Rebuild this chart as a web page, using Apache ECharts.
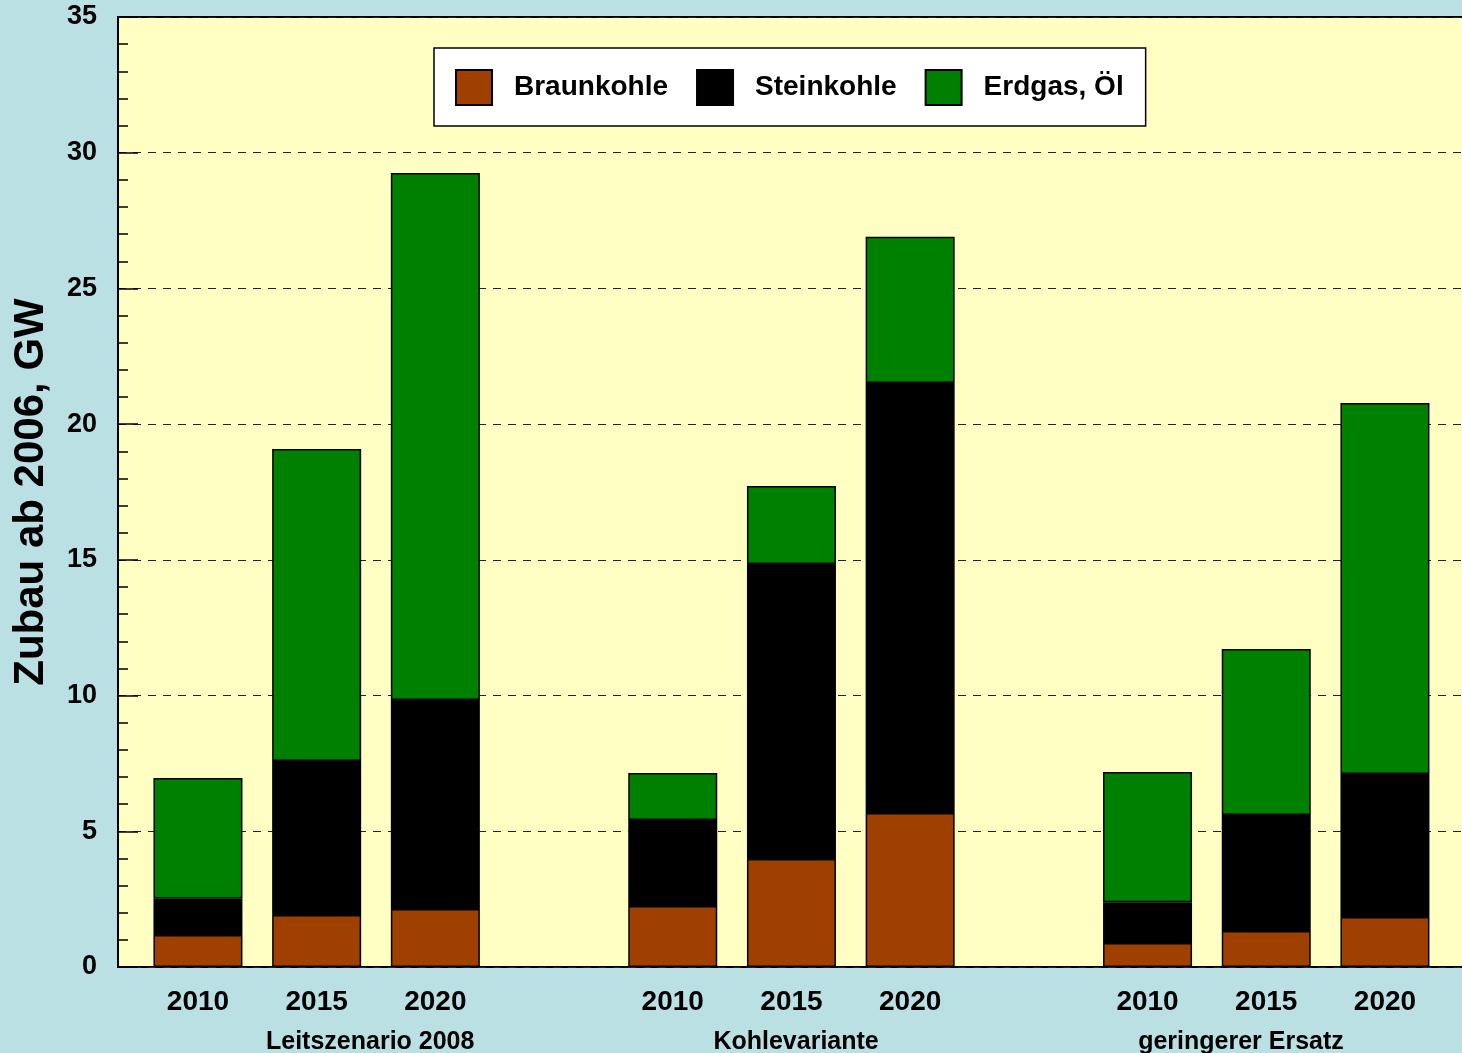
<!DOCTYPE html>
<html lang="de">

<head>
    <meta charset="UTF-8">
    <title>Zubau ab 2006</title>
    <style>
        body { margin: 0; background: #bae0e4; }
    </style>
</head>

<body>
    <div id="main" style="width: 1462px;height: 1053px;"></div>
    <script src="https://cdn.jsdelivr.net/npm/echarts@6/dist/echarts.min.js"></script>
    <script>
        // Slots: drei Gruppen mit je drei Jahren, leere Slots als Abstand
        var categories = ['2010', '2015', '2020', '', '2010', '2015', '2020', '', '2010', '2015', '2020'];
        var groups = ['Leitszenario 2008', 'Kohlevariante', 'geringerer Ersatz'];
        var braunkohle = [1.18, 1.92, 2.14, null, 2.25, 3.98, 5.67, null, 0.88, 1.33, 1.84];
        var steinkohle = [1.33, 5.67, 7.70, null, 3.17, 10.87, 15.85, null, 1.51, 4.27, 5.27];
        var erdgas = [4.45, 11.49, 19.41, null, 1.73, 2.87, 5.38, null, 4.79, 6.12, 13.67];
        var yTicks = [0, 5, 10, 15, 20, 25, 30, 35];

        var font = '"Liberation Sans", Arial, sans-serif';
        var groupPos = [1.45, 5.03, 8.77]; // Mitte der Gruppentexte, in Slots

        function bar(name, color, arr) {
            return {
                name: name,
                type: 'bar',
                stack: 'zubau',
                xAxisIndex: 1,
                yAxisIndex: 1,
                barWidth: 89,
                data: arr,
                itemStyle: { color: color, borderColor: '#000', borderWidth: 1.5 }
            };
        }

        var chart = echarts.init(document.getElementById('main'));
        chart.setOption({
            backgroundColor: '#bae0e4',
            textStyle: { fontFamily: font },
            legend: {
                left: 434,
                top: 48,
                padding: [21, 22, 20, 21],
                itemGap: 28,
                itemWidth: 36,
                itemHeight: 35,
                backgroundColor: '#fff',
                borderColor: '#000',
                borderWidth: 1.5,
                icon: 'rect',
                textStyle: { fontSize: 28, fontWeight: 'bold', color: '#000', padding: [4, 0, 0, 17], fontFamily: font },
                data: ['Braunkohle', 'Steinkohle', 'Erdgas, Öl']
            },
            grid: [
                {   // Hintergrund, y-Achse, Gitterlinien
                    left: 118,
                    right: -3,
                    top: 17,
                    bottom: 86,
                    outerBoundsMode: 'none',
                    show: true,
                    backgroundColor: '#ffffc4',
                    borderColor: '#000',
                    borderWidth: 2
                },
                {   // Balken
                    left: 138.6,
                    right: 17.7,
                    top: 17,
                    bottom: 86,
                    outerBoundsMode: 'none'
                }
            ],
            xAxis: [
                {
                    type: 'value',
                    gridIndex: 0,
                    min: -0.67,
                    max: 10.653,
                    splitLine: { show: false },
                    axisLine: { show: false },
                    axisTick: { show: false },
                    axisLabel: {
                        customValues: groupPos,
                        formatter: function (v) { return groups[groupPos.indexOf(v)]; },
                        margin: 63,
                        fontSize: 25,
                        fontWeight: 'bold',
                        color: '#000',
                        fontFamily: font
                    }
                },
                {
                    type: 'category',
                    gridIndex: 1,
                    data: categories,
                    axisLine: { show: false },
                    axisTick: { show: false },
                    axisLabel: {
                        interval: 0,
                        margin: 21,
                        fontSize: 28,
                        fontWeight: 'bold',
                        color: '#000',
                        fontFamily: font
                    }
                }
            ],
            yAxis: [
                {
                    type: 'value',
                    gridIndex: 0,
                    min: yTicks[0],
                    max: yTicks[yTicks.length - 1],
                    interval: 5,
                    name: 'Zubau ab 2006, GW',
                    nameLocation: 'middle',
                    nameGap: 66,
                    nameTextStyle: { fontSize: 42, fontWeight: 'bold', color: '#000', fontFamily: font },
                    axisLine: { show: true, onZero: false, lineStyle: { color: '#000', width: 2 } },
                    axisTick: { show: true, inside: true, length: 20, lineStyle: { color: '#000', width: 1.5 } },
                    minorTick: { show: true, splitNumber: 5, length: 10, lineStyle: { color: '#000', width: 1.5 } },
                    axisLabel: { margin: 21, fontSize: 27, fontWeight: 'bold', color: '#000', fontFamily: font, padding: [3, 0, 0, 0] },
                    splitLine: { show: true, lineStyle: { color: '#222', type: [8, 7], width: 1.2 } }
                },
                {
                    type: 'value',
                    gridIndex: 1,
                    min: yTicks[0],
                    max: yTicks[yTicks.length - 1],
                    show: false
                }
            ],
            series: [
                bar('Braunkohle', '#a04000', braunkohle),
                bar('Steinkohle', '#000000', steinkohle),
                bar('Erdgas, Öl', '#008000', erdgas)
            ]
        });
    </script>
</body>

</html>
